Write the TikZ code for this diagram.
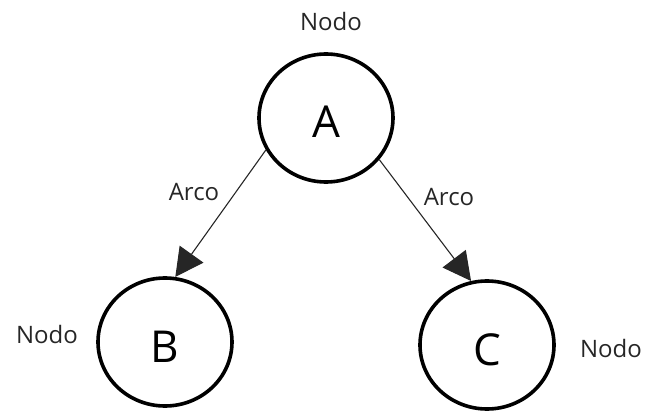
\documentclass[tikz,border=0pt]{standalone}
\usepackage{fontspec}
\setmainfont{Open Sans}
\usetikzlibrary{shapes.geometric,arrows.meta}
\begin{document}
\begin{tikzpicture}[x=1pt,y=-1pt,
  nodecirc/.style={ellipse,draw=black,line width=3.6pt,minimum width=134pt,minimum height=128pt,inner sep=0pt,font=\fontsize{44}{44}\selectfont},
  lbl/.style={inner sep=0pt,font=\fontsize{24}{24}\selectfont,text=black!85},
  arc/.style={draw=black!85,line width=1.1pt,-{Triangle[length=28pt,width=29pt]}}]
\useasboundingbox (0,0) rectangle (649,412);
\node[nodecirc] (A) at (326,118) {\raisebox{-4pt}[\height][0pt]{A}};
\node[nodecirc] (B) at (165,342) {\raisebox{-5pt}[\height][0pt]{B}};
\node[nodecirc] (C) at (487,345) {\raisebox{-5pt}[\height][0pt]{C}};
\node[lbl] (nA) at (331,22) {Nodo};
\node[lbl] (nB) at (47,334) {Nodo};
\node[lbl] (nC) at (611,348) {Nodo};
\node[lbl] (aB) at (194,192) {Arco};
\node[lbl] (aC) at (449,197) {Arco};
\draw[arc] (A.208) -- (B.81);
\draw[arc] (A.-38) -- (C.104);
\end{tikzpicture}
\end{document}
